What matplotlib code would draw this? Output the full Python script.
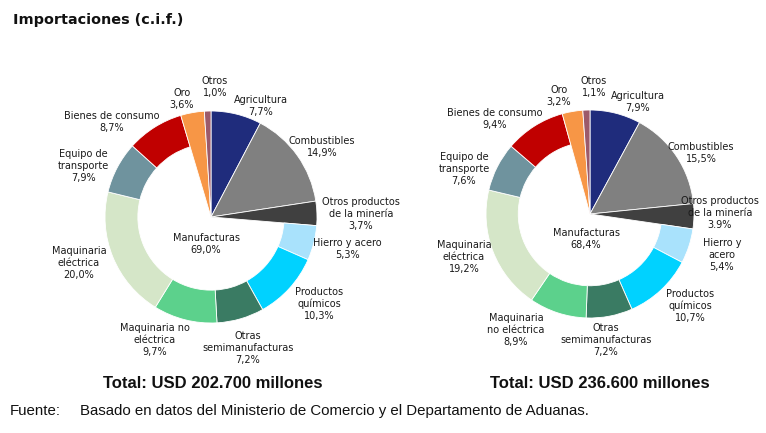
import matplotlib
matplotlib.use("Agg")
import matplotlib.pyplot as plt

categories = ["Agricultura", "Combustibles", "Otros productos de la minería",
              "Hierro y acero", "Productos químicos", "Otras semimanufacturas",
              "Maquinaria no eléctrica", "Maquinaria eléctrica",
              "Equipo de transporte", "Bienes de consumo", "Oro", "Otros"]
values_1 = [7.7, 14.9, 3.7, 5.3, 10.3, 7.2, 9.7, 20.0, 7.9, 8.7, 3.6, 1.0]
values_2 = [7.9, 15.5, 3.9, 5.4, 10.7, 7.2, 8.9, 19.2, 7.6, 9.4, 3.2, 1.1]
is_manuf = [False, False, False, True, True, True, True, True, True, True, False, False]
labels_1 = ["Agricultura\n7,7%", "Combustibles\n14,9%", "Otros productos\nde la minería\n3,7%",
            "Hierro y acero\n5,3%", "Productos\nquímicos\n10,3%", "Otras\nsemimanufacturas\n7,2%",
            "Maquinaria no\neléctrica\n9,7%", "Maquinaria\neléctrica\n20,0%",
            "Equipo de\ntransporte\n7,9%", "Bienes de consumo\n8,7%", "Oro\n3,6%", "Otros\n1,0%"]
labels_2 = ["Agricultura\n7,9%", "Combustibles\n15,5%", "Otros productos\nde la minería\n3.9%",
            "Hierro y\nacero\n5,4%", "Productos\nquímicos\n10,7%", "Otras\nsemimanufacturas\n7,2%",
            "Maquinaria\nno eléctrica\n8,9%", "Maquinaria\neléctrica\n19,2%",
            "Equipo de\ntransporte\n7,6%", "Bienes de consumo\n9,4%", "Oro\n3,2%", "Otros\n1,1%"]
center_label_1 = "Manufacturas\n69,0%"
center_label_2 = "Manufacturas\n68,4%"
total_1 = "Total: USD 202.700 millones"
total_2 = "Total: USD 236.600 millones"
title = "Importaciones (c.i.f.)"
source_head = "Fuente:"
source_text = "Basado en datos del Ministerio de Comercio y el Departamento de Aduanas."

colors = ["#1F2C7C", "#808080", "#404040", "#A9E2FC", "#00D2FF", "#3A7B63",
          "#5CD18C", "#D5E6C8", "#6F939E", "#C00000", "#F79646", "#9C5A6A"]

W, H = 766, 433
fig = plt.figure(figsize=(W / 100, H / 100), dpi=100)
ax = fig.add_axes([0, 0, 1, 1])


def Y(py):
    return H - py


def draw(values, labels, center_label, cx, cy, r, label_pos, center_pos):
    wedges, _ = ax.pie(values, colors=colors, startangle=90, counterclock=False,
                       center=(cx, Y(cy)), radius=r,
                       wedgeprops=dict(linewidth=0.6, edgecolor="white"))
    for w, m in zip(wedges, is_manuf):
        if m:
            w.set_width(r * 0.31)
    for lab, (lx, ly) in zip(labels, label_pos):
        ax.text(lx, Y(ly), lab, ha="center", va="center", fontsize=7,
                color="#1a1a1a", linespacing=1.25)
    ax.text(center_pos[0], Y(center_pos[1]), center_label, ha="center", va="center",
            fontsize=7, color="#1a1a1a", linespacing=1.25)


pos_1 = [(261, 106), (322, 147), (361, 214), (347, 249), (319, 304), (248, 348),
         (155, 340), (79, 263), (83, 166), (112, 122), (182, 99), (215, 87)]
pos_2 = [(638, 102), (701, 153), (720, 213), (722, 255), (690, 306), (606, 340),
         (516, 330), (464, 257), (464, 169), (495, 119), (559, 96), (594, 87)]

draw(values_1, labels_1, center_label_1, 211, 217, 106, pos_1, (206, 244))
draw(values_2, labels_2, center_label_2, 590, 214, 104, pos_2, (586, 239))

ax.set_xlim(0, W)
ax.set_ylim(0, H)
ax.set_aspect("auto")
ax.axis("off")

fig.text(13 / W, 1 - 20 / H, title, ha="left", va="center", fontsize=10.4,
         fontweight="bold", family="DejaVu Sans", color="#111111")
fig.text(213 / W, 1 - 383 / H, total_1, ha="center", va="center", fontsize=12,
         fontweight="bold", family="Liberation Sans", color="#111111")
fig.text(600 / W, 1 - 383 / H, total_2, ha="center", va="center", fontsize=12,
         fontweight="bold", family="Liberation Sans", color="#111111")
fig.text(10 / W, 1 - 411 / H, source_head, ha="left", va="center", fontsize=10.8,
         family="Liberation Sans", color="#111111")
fig.text(80 / W, 1 - 411 / H, source_text, ha="left", va="center", fontsize=10.8,
         family="Liberation Sans", color="#111111")

fig.savefig("out.png", dpi=100, facecolor="white")
